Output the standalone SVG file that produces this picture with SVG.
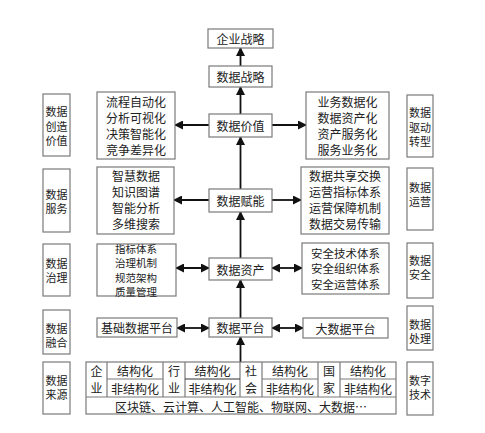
<svg xmlns="http://www.w3.org/2000/svg" width="485" height="433" viewBox="0 0 485 433">
<defs>
<marker id="ah" markerWidth="9" markerHeight="9" refX="8" refY="4.5" orient="auto-start-reverse" markerUnits="userSpaceOnUse">
<path d="M0,0 L9,4.5 L0,9 Z" fill="#111"/>
</marker>
<style>
.b{fill:#fff;stroke:#7a7a7a;stroke-width:1.2}
.t{font-family:"Noto Sans CJK SC","Liberation Serif",serif;font-size:12px;fill:#222;text-anchor:middle;dominant-baseline:central}
.s{font-size:11px}
.m{font-size:11.5px}
.x{font-size:10.5px}
.a{stroke:#111;stroke-width:1.8;fill:none}
.tl{stroke:#7a7a7a;stroke-width:1.2;fill:none}
</style>
</defs>
<rect width="485" height="433" fill="#fff"/>

<g id="connectors">
<line class="a" x1="240.5" y1="66" x2="240.5" y2="48" marker-end="url(#ah)"/>
<line class="a" x1="240.5" y1="114" x2="240.5" y2="87" marker-end="url(#ah)"/>
<line class="a" x1="240.5" y1="189" x2="240.5" y2="137" marker-end="url(#ah)"/>
<line class="a" x1="240.5" y1="258" x2="240.5" y2="212" marker-end="url(#ah)"/>
<line class="a" x1="240.5" y1="318" x2="240.5" y2="280" marker-end="url(#ah)"/>
<line class="a" x1="240.5" y1="362" x2="240.5" y2="337" marker-end="url(#ah)"/>
<line class="a" x1="209" y1="125" x2="175" y2="125" marker-end="url(#ah)"/>
<line class="a" x1="272" y1="125" x2="306" y2="125" marker-end="url(#ah)"/>
<line class="a" x1="209" y1="200" x2="174" y2="200" marker-end="url(#ah)"/>
<line class="a" x1="272" y1="200" x2="301" y2="200" marker-end="url(#ah)"/>
<line class="a" x1="176" y1="268" x2="209" y2="268" marker-start="url(#ah)" marker-end="url(#ah)"/>
<line class="a" x1="272" y1="268" x2="302" y2="268" marker-start="url(#ah)" marker-end="url(#ah)"/>
<line class="a" x1="177" y1="328" x2="209" y2="328" marker-start="url(#ah)" marker-end="url(#ah)"/>
<line class="a" x1="272" y1="328" x2="303" y2="328" marker-start="url(#ah)" marker-end="url(#ah)"/>
</g>

<g id="qiye-zhanlue"><rect class="b" x="208" y="29" width="65" height="19"/><text class="t" x="240.5" y="38.5">企业战略</text></g>
<g id="shuju-zhanlue"><rect class="b" x="209" y="66" width="63" height="21"/><text class="t" x="240.5" y="76.5">数据战略</text></g>
<g id="shuju-jiazhi"><rect class="b" x="209" y="114" width="63" height="23"/><text class="t" x="240.5" y="125.5">数据价值</text></g>
<g id="shuju-funeng"><rect class="b" x="209" y="189" width="63" height="23"/><text class="t" x="240.5" y="200.5">数据赋能</text></g>
<g id="shuju-zichan"><rect class="b" x="209" y="258" width="63" height="22"/><text class="t" x="240.5" y="269">数据资产</text></g>
<g id="shuju-pingtai"><rect class="b" x="209" y="318" width="63" height="19"/><text class="t" x="240.5" y="327.5">数据平台</text></g>

<g id="value-left"><rect class="b" x="97" y="92" width="78" height="67"/>
<text class="t" x="136" y="101">流程自动化</text><text class="t" x="136" y="117">分析可视化</text><text class="t" x="136" y="133">决策智能化</text><text class="t" x="136" y="149">竞争差异化</text></g>
<g id="value-right"><rect class="b" x="306" y="92" width="83" height="67"/>
<text class="t" x="347.5" y="101">业务数据化</text><text class="t" x="347.5" y="117">数据资产化</text><text class="t" x="347.5" y="133">资产服务化</text><text class="t" x="347.5" y="149">服务业务化</text></g>

<g id="enable-left"><rect class="b" x="97" y="167" width="77" height="67"/>
<text class="t" x="136" y="175.5">智慧数据</text><text class="t" x="136" y="191.5">知识图谱</text><text class="t" x="136" y="207.5">智能分析</text><text class="t" x="136" y="223.5">多维搜索</text></g>
<g id="enable-right"><rect class="b" x="301" y="167" width="88" height="67"/>
<text class="t" x="345" y="175.5">数据共享交换</text><text class="t" x="345" y="191.5">运营指标体系</text><text class="t" x="345" y="207.5">运营保障机制</text><text class="t" x="345" y="223.5">数据交易传输</text></g>

<g id="asset-left"><rect class="b" x="97" y="244" width="79" height="52"/>
<text class="t x" x="136" y="248.5">指标体系</text><text class="t x" x="136" y="262.9">治理机制</text><text class="t x" x="136" y="277.3">规范架构</text><text class="t x" x="136" y="291.7">质量管理</text></g>
<g id="asset-right"><rect class="b" x="302" y="243" width="87" height="51"/>
<text class="t m" x="345.5" y="252.5">安全技术体系</text><text class="t m" x="345.5" y="268">安全组织体系</text><text class="t m" x="345.5" y="283.5">安全运营体系</text></g>

<g id="platform-left"><rect class="b" x="97" y="318" width="80" height="19"/><text class="t" x="137" y="327.5">基础数据平台</text></g>
<g id="platform-right"><rect class="b" x="303" y="318" width="85" height="20"/><text class="t" x="345.5" y="328">大数据平台</text></g>

<g id="side-left-1"><rect class="b" x="43" y="94" width="27" height="62"/><text class="t s" x="56.5" y="111">数据</text><text class="t s" x="56.5" y="125.5">创造</text><text class="t s" x="56.5" y="140">价值</text></g>
<g id="side-left-2"><rect class="b" x="43" y="169" width="27" height="63"/><text class="t s" x="56.5" y="193.5">数据</text><text class="t s" x="56.5" y="208">服务</text></g>
<g id="side-left-3"><rect class="b" x="43" y="244" width="27" height="52"/><text class="t s" x="56.5" y="262.5">数据</text><text class="t s" x="56.5" y="277">治理</text></g>
<g id="side-left-4"><rect class="b" x="43" y="310" width="27" height="44"/><text class="t s" x="56.5" y="327.5">数据</text><text class="t s" x="56.5" y="342">融合</text></g>
<g id="side-left-5"><rect class="b" x="43" y="362" width="27" height="52"/><text class="t s" x="56.5" y="379.5">数据</text><text class="t s" x="56.5" y="394">来源</text></g>

<g id="side-right-1"><rect class="b" x="407" y="95" width="26" height="62"/><text class="t s" x="420" y="112">数据</text><text class="t s" x="420" y="126.5">驱动</text><text class="t s" x="420" y="141">转型</text></g>
<g id="side-right-2"><rect class="b" x="407" y="168" width="26" height="62"/><text class="t s" x="420" y="186.5">数据</text><text class="t s" x="420" y="201">运营</text></g>
<g id="side-right-3"><rect class="b" x="407" y="243" width="26" height="55"/><text class="t s" x="420" y="259.5">数据</text><text class="t s" x="420" y="274">安全</text></g>
<g id="side-right-4"><rect class="b" x="407" y="306" width="26" height="44"/><text class="t s" x="420" y="323.5">数据</text><text class="t s" x="420" y="338">处理</text></g>
<g id="side-right-5"><rect class="b" x="407" y="362" width="26" height="53"/><text class="t s" x="420" y="379.5">数字</text><text class="t s" x="420" y="394">技术</text></g>

<g id="source-table">
<rect class="b" x="86" y="362" width="310" height="52"/>
<line class="tl" x1="86" y1="397" x2="396" y2="397"/>
<line class="tl" x1="107" y1="362" x2="107" y2="397"/>
<line class="tl" x1="163" y1="362" x2="163" y2="397"/>
<line class="tl" x1="185" y1="362" x2="185" y2="397"/>
<line class="tl" x1="240" y1="362" x2="240" y2="397"/>
<line class="tl" x1="262" y1="362" x2="262" y2="397"/>
<line class="tl" x1="318" y1="362" x2="318" y2="397"/>
<line class="tl" x1="340" y1="362" x2="340" y2="397"/>
<line class="tl" x1="107" y1="379" x2="163" y2="379"/>
<line class="tl" x1="185" y1="379" x2="240" y2="379" style="stroke:#333"/>
<line class="tl" x1="262" y1="379" x2="318" y2="379"/>
<line class="tl" x1="340" y1="379" x2="396" y2="379"/>
<text class="t" x="96.5" y="370.5">企</text><text class="t" x="96.5" y="387.5">业</text>
<text class="t" x="174" y="370.5">行</text><text class="t" x="174" y="387.5">业</text>
<text class="t" x="251" y="370.5">社</text><text class="t" x="251" y="387.5">会</text>
<text class="t" x="329" y="370.5">国</text><text class="t" x="329" y="387.5">家</text>
<text class="t" x="135" y="370.5">结构化</text><text class="t" x="135" y="388">非结构化</text>
<text class="t" x="212.5" y="370.5">结构化</text><text class="t" x="212.5" y="388.5">非结构化</text>
<text class="t" x="290" y="370.5">结构化</text><text class="t" x="290" y="388">非结构化</text>
<text class="t" x="368" y="370.5">结构化</text><text class="t" x="368" y="388">非结构化</text>
<text class="t" x="241" y="406">区块链、云计算、人工智能、物联网、大数据…</text>
</g>
</svg>
